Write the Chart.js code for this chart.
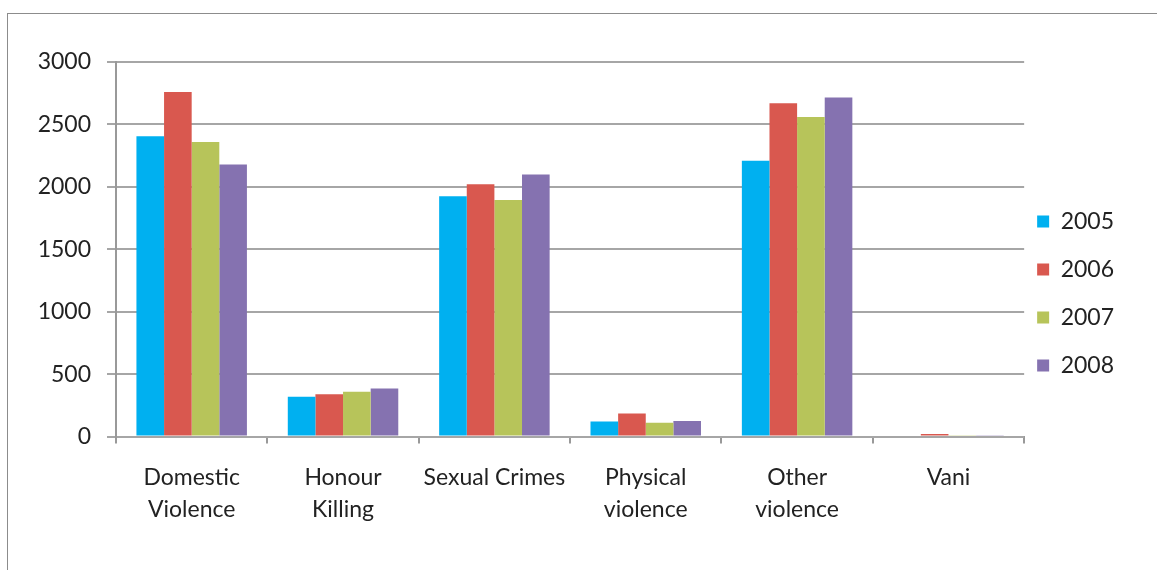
<!DOCTYPE html>
<html>
<head>
<meta charset="utf-8">
<script src="https://cdn.jsdelivr.net/npm/chart.js@4"></script>
<style>
  body { margin: 0; background: #fff; }
  #wrap { position: relative; width: 1157px; height: 570px; }
  #frame { position: absolute; left: 7px; top: 13px; width: 1160px; height: 570px; border: 1px solid #8c8c8c; }
  canvas { position: absolute; left: 0; top: 0; }
</style>
</head>
<body>
<div id="wrap">
  <div id="frame"></div>
  <canvas id="c" width="1157" height="570"></canvas>
</div>
<script>
// categories and values
var categories = [['Domestic', 'Violence'], ['Honour', 'Killing'], 'Sexual Crimes', ['Physical', 'violence'], ['Other', 'violence'], 'Vani'];
var years = ['2005', '2006', '2007', '2008'];
var v2005 = [2405, 320, 1925, 120, 2210, 0];
var v2006 = [2760, 340, 2020, 185, 2670, 20];
var v2007 = [2360, 360, 1895, 110, 2560, 6];
var v2008 = [2180, 385, 2100, 125, 2715, 10];
var colors = ['#00b0f0', '#d9584f', '#b7c45a', '#8572b0'];

var series = [v2005, v2006, v2007, v2008];
var datasets = [];
for (var i = 0; i < years.length; i++) {
  datasets.push({
    label: years[i],
    data: series[i],
    backgroundColor: colors[i],
    borderWidth: 0,
    categoryPercentage: 0.73,
    barPercentage: 1.0
  });
}

Chart.defaults.font.family = 'Lato, "Open Sans", sans-serif';
Chart.defaults.color = '#222';

// pull the legend a bit closer to the plot, like the original
var legendShift = {
  id: 'legendShift',
  afterLayout: function (chart) {
    chart.legend.left -= 12;
    chart.legend.right -= 12;
  }
};

new Chart(document.getElementById('c'), {
  type: 'bar',
  data: { labels: categories, datasets: datasets },
  plugins: [legendShift],
  options: {
    responsive: false,
    animation: false,
    layout: { padding: { left: 20, top: 62, right: 21, bottom: 45 } },
    plugins: {
      tooltip: { enabled: false },
      legend: {
        position: 'right',
        align: 'center',
        labels: {
          boxWidth: 12,
          boxHeight: 12,
          padding: 25,
          font: { size: 23 },
          color: '#222'
        }
      }
    },
    scales: {
      x: {
        grid: { drawOnChartArea: false, drawTicks: true, tickLength: 7, color: '#999', lineWidth: 2 },
        border: { color: '#999', width: 2, z: -1 },
        ticks: { font: { size: 23, lineHeight: 1.4 }, padding: 18, maxRotation: 0, autoSkip: false },
        afterFit: function (s) { s.height -= 19; }
      },
      y: {
        min: 0,
        max: 3000,
        grid: { color: '#a6a6a6', lineWidth: 2, drawTicks: true, tickLength: 9 },
        border: { color: '#999', width: 2 },
        ticks: {
          stepSize: 500,
          font: { size: 23 },
          padding: 16,
          callback: function (v) { return String(v); }
        },
        afterFit: function (s) { s.width = 96; }
      }
    }
  }
});
</script>
</body>
</html>
